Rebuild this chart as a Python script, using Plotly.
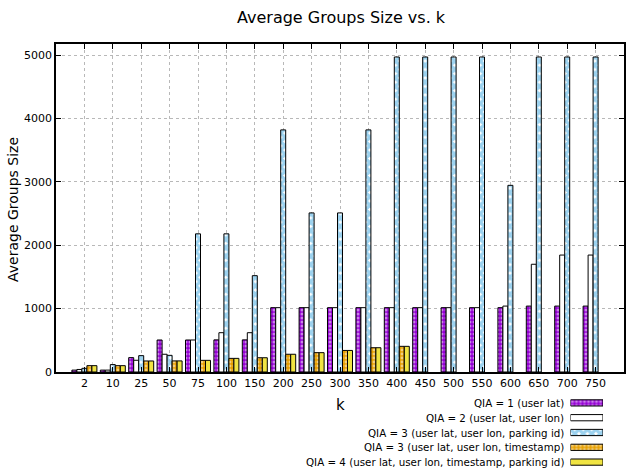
import plotly.graph_objects as go

k_labels = ["2", "10", "25", "50", "75", "100", "150", "200", "250", "300",
            "350", "400", "450", "500", "550", "600", "650", "700", "750"]

qia1_lat = [30, 30, 227, 505, 505, 507, 507, 1015, 1015, 1015,
            1015, 1015, 1015, 1015, 1015, 1015, 1040, 1040, 1040]
qia2_lat_lon = [40, 30, 185, 280, 505, 620, 620, 1015, 1015, 1015,
                1015, 1015, 1015, 1015, 1015, 1040, 1700, 1845, 1845]
qia3_lat_lon_pid = [58, 117, 258, 263, 2180, 2180, 1520, 3820, 2510, 2510,
                    3820, 4970, 4970, 4970, 4970, 2945, 4970, 4970, 4970]
qia3_lat_lon_ts = [100, 100, 174, 175, 184, 215, 225, 280, 305, 340,
                   383, 405, None, None, None, None, None, None, None]
qia4_all = [100, 100, 174, 175, 184, 215, 225, 280, 305, 340,
            383, 405, None, None, None, None, None, None, None]

series_names = [
    "QIA = 1 (user lat)",
    "QIA = 2 (user lat, user lon)",
    "QIA = 3 (user lat, user lon, parking id)",
    "QIA = 3 (user lat, user lon, timestamp)",
    "QIA = 4 (user lat, user lon, timestamp, parking id)",
]
series_values = [qia1_lat, qia2_lat_lon, qia3_lat_lon_pid, qia3_lat_lon_ts, qia4_all]

FONT = "DejaVu Sans"
PURPLE = "#9400D3"
BLUE = "#56B4E9"
ORANGE = "#E69F00"
YELLOW = "#F0E442"

styles = [
    dict(color=PURPLE, pattern=dict(shape=".", fgcolor="white", bgcolor=PURPLE, size=4, solidity=0.45, fillmode="overlay")),
    dict(color="white", pattern=dict(shape="")),
    dict(color="white", pattern=dict(shape="x", fgcolor="#3aa6e0", bgcolor="white", size=6, solidity=0.8, fillmode="overlay")),
    dict(color=ORANGE, pattern=dict(shape=".", fgcolor="white", bgcolor=ORANGE, size=4, solidity=0.4, fillmode="overlay")),
    dict(color=YELLOW, pattern=dict(shape="")),
]

fig = go.Figure()

for name, vals, st in zip(series_names, series_values, styles):
    fig.add_trace(go.Bar(
        x=k_labels, y=vals, name=name,
        marker=dict(color=st["color"], pattern=st["pattern"],
                    line=dict(color="black", width=1)),
        xaxis="x", yaxis="y", showlegend=False,
    ))

# legend swatches drawn in a small auxiliary subplot
for name, st in zip(series_names, styles):
    fig.add_trace(go.Bar(
        y=[name], x=[1], orientation="h", width=0.42, offsetgroup="leg",
        marker=dict(color=st["color"], pattern=st["pattern"],
                    line=dict(color="black", width=1)),
        xaxis="x2", yaxis="y2", showlegend=False, hoverinfo="skip",
    ))

W, H = 627, 472
L, R, T, B = 56, 3, 44, 0
plot_h = H - T - B
plot_w = W - L - R

def py(p):
    return (H - B - p) / plot_h

def px(p):
    return (p - L) / plot_w

annotations = []
for name in series_names:
    annotations.append(dict(
        x=0, y=name, xref="x2", yref="y2", text=name, showarrow=False,
        xanchor="right", yanchor="middle", xshift=-5,
        font=dict(family=FONT, size=10.3, color="black"),
    ))
annotations.append(dict(x=px(340), y=py(405), xref="paper", yref="paper", text="k",
                        showarrow=False, xanchor="center", yanchor="middle",
                        font=dict(family=FONT, size=15, color="black")))
annotations.append(dict(x=px(13), y=py(210), xref="paper", yref="paper",
                        text="Average Groups Size", textangle=-90, showarrow=False,
                        xanchor="center", yanchor="middle",
                        font=dict(family=FONT, size=14, color="black")))
annotations.append(dict(x=px(341), y=py(17), xref="paper", yref="paper",
                        text="Average Groups Size vs. k", showarrow=False,
                        xanchor="center", yanchor="middle",
                        font=dict(family=FONT, size=16, color="black")))

fig.update_layout(
    width=W, height=H, autosize=False,
    margin=dict(l=L, r=R, t=T, b=B, pad=0),
    plot_bgcolor="white", paper_bgcolor="white",
    barmode="group", bargap=0.12, bargroupgap=0,
    font=dict(family=FONT, size=11, color="black"),
    annotations=annotations,
    xaxis=dict(
        type="category", categoryorder="array", categoryarray=k_labels,
        range=[-1, 19], domain=[0, 1], anchor="y",
        showline=True, linecolor="black", linewidth=1.5, mirror="ticks",
        ticks="inside", ticklen=5, tickcolor="black",
        showgrid=True, gridcolor="#b8b8b8", griddash="dot", gridwidth=1,
        tickfont=dict(family=FONT, size=11, color="black"),
        fixedrange=True, automargin=False,
    ),
    yaxis=dict(
        range=[0, 5175], domain=[py(372), 1], anchor="x",
        tickvals=[0, 1000, 2000, 3000, 4000, 5000],
        showline=True, linecolor="black", linewidth=1.5, mirror="ticks",
        ticks="inside", ticklen=5, tickcolor="black",
        showgrid=True, gridcolor="#b8b8b8", griddash="dot", gridwidth=1,
        zeroline=False,
        tickfont=dict(family=FONT, size=11, color="black"),
        fixedrange=True, automargin=False,
    ),
    xaxis2=dict(
        domain=[px(570.5), px(603)], range=[0, 1], anchor="y2",
        showgrid=False, zeroline=False, showticklabels=False, showline=False,
        fixedrange=True, automargin=False,
    ),
    yaxis2=dict(
        domain=[py(469.5), py(395.5)], anchor="x2",
        type="category", categoryorder="array", categoryarray=series_names,
        range=[4.5, -0.5],
        showgrid=False, zeroline=False, showticklabels=False, showline=False,
        fixedrange=True, automargin=False,
    ),
)

fig.write_html(
    "out.html",
    config={"displayModeBar": False, "responsive": False},
    post_script="document.body.style.margin='0';document.body.style.padding='0';",
)
